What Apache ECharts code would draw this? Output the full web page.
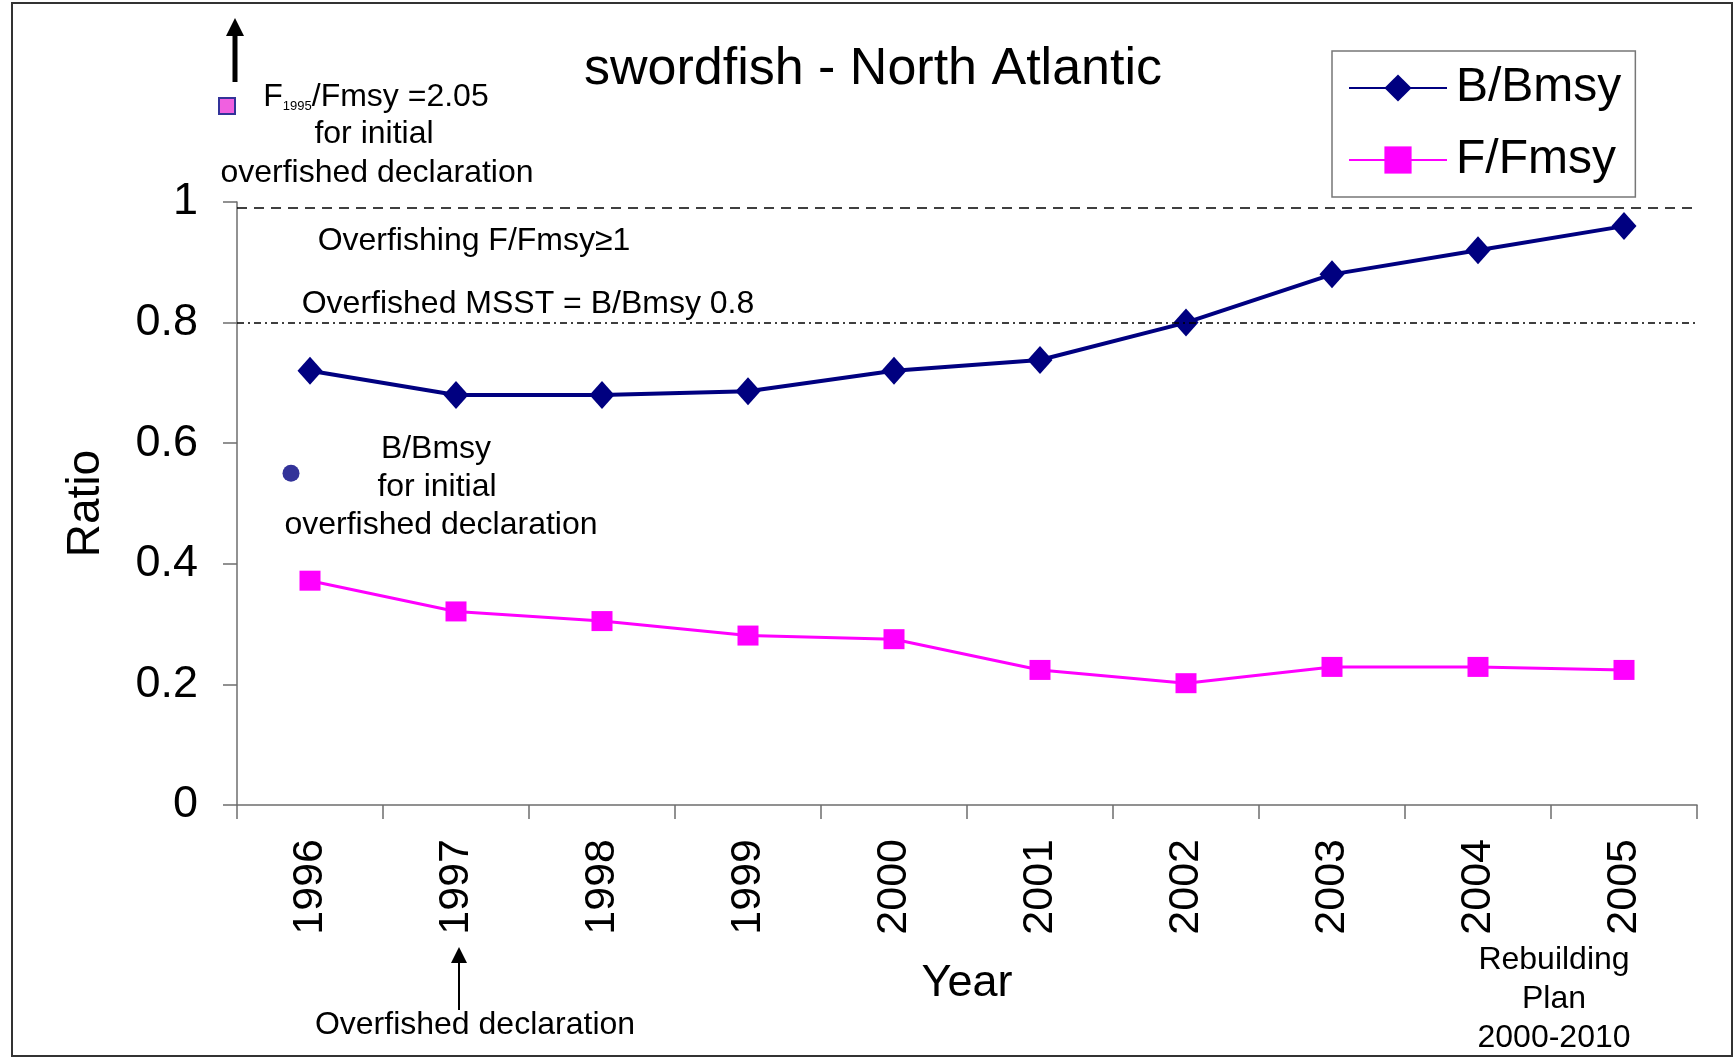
<!DOCTYPE html>
<html>
<head>
<meta charset="utf-8">
<title>swordfish - North Atlantic</title>
<script src="https://cdn.jsdelivr.net/npm/echarts@6/dist/echarts.min.js"></script>
<style>
    html, body { margin: 0; padding: 0; background: #ffffff; }
    #chart { width: 1735px; height: 1058px; }
</style>
</head>
<body>
<div id="chart"></div>
<script>
const years = ['1996', '1997', '1998', '1999', '2000', '2001', '2002', '2003', '2004', '2005'];
const bBmsy = [0.72, 0.68, 0.68, 0.686, 0.72, 0.738, 0.80, 0.88, 0.92, 0.96];
const fFmsy = [0.372, 0.321, 0.305, 0.281, 0.275, 0.224, 0.202, 0.229, 0.229, 0.224];
// reference levels
const overfishingLevel = [0.988];
const msstLevel = [0.8];
// B/Bmsy at the initial overfished declaration
const initialB = [0.55];

const font = 'Liberation Sans, Arial, sans-serif';

const txt = (x, y, text, size) => ({
    type: 'text',
    x: x,
    y: y,
    style: {
        text: text,
        font: size + 'px ' + font,
        fill: '#000',
        align: 'center',
        verticalAlign: 'middle'
    }
});

const initChart = () => {
    const myChart = echarts.init(document.getElementById('chart'));

    const option = {
        animation: false,
        backgroundColor: '#ffffff',
        title: {
            text: 'swordfish - North Atlantic',
            left: 579,
            top: 39,
            textStyle: { fontFamily: font, fontSize: 52, fontWeight: 'normal', color: '#000' }
        },
        legend: {
            orient: 'vertical',
            left: 1332,
            top: 51,
            padding: [13, 14, 13, 16],
            itemGap: 24,
            itemWidth: 98,
            itemHeight: 34,
            borderColor: '#777',
            borderWidth: 1.5,
            textStyle: { fontFamily: font, fontSize: 48, color: '#000', padding: [0, 0, 0, 4] },
            data: ['B/Bmsy', 'F/Fmsy']
        },
        grid: { left: 237, right: 38, top: 202, bottom: 253 },
        xAxis: {
            type: 'category',
            data: years,
            name: 'Year',
            nameLocation: 'middle',
            nameGap: 156,
            nameTextStyle: { fontFamily: font, fontSize: 45, color: '#000' },
            axisLine: { lineStyle: { color: '#6e6e6e', width: 1.5 } },
            axisTick: { show: true, length: 14, lineStyle: { color: '#6e6e6e', width: 1.5 } },
            axisLabel: { rotate: 90, margin: 34, fontFamily: font, fontSize: 43, color: '#000' }
        },
        yAxis: {
            type: 'value',
            min: 0,
            max: 1,
            interval: 0.2,
            name: 'Ratio',
            nameLocation: 'middle',
            nameGap: 128,
            nameTextStyle: { fontFamily: font, fontSize: 46, color: '#000' },
            splitLine: { show: false },
            axisLine: { show: true, lineStyle: { color: '#6e6e6e', width: 1.5 } },
            axisTick: { show: true, length: 14, lineStyle: { color: '#6e6e6e', width: 1.5 } },
            axisLabel: { margin: 39, fontFamily: font, fontSize: 45, color: '#000' }
        },
        series: [
            {
                name: 'B/Bmsy',
                type: 'line',
                data: bBmsy,
                symbol: 'diamond',
                symbolSize: [25, 28],
                itemStyle: { color: '#000080' },
                lineStyle: { color: '#000080', width: 4 },
                markPoint: {
                    silent: true,
                    symbol: 'circle',
                    symbolSize: 17,
                    symbolOffset: [-19, 0],
                    itemStyle: { color: '#333399' },
                    label: { show: false },
                    data: [{ coord: [years[0], initialB[0]] }]
                },
                markLine: {
                    silent: true,
                    symbol: 'none',
                    label: { show: false },
                    lineStyle: { color: '#000', width: 1.5, type: [7, 4, 2, 4] },
                    data: msstLevel.map(v => ({ yAxis: v }))
                }
            },
            {
                name: 'F/Fmsy',
                type: 'line',
                data: fFmsy,
                symbol: 'rect',
                symbolSize: [21, 20],
                itemStyle: { color: '#ff00ff' },
                lineStyle: { color: '#ff00ff', width: 3 },
                markLine: {
                    silent: true,
                    symbol: 'none',
                    label: { show: false },
                    lineStyle: { color: '#000', width: 1.5, type: [10, 7] },
                    data: overfishingLevel.map(v => ({ yAxis: v }))
                }
            }
        ],
        graphic: [
            {
                type: 'rect',
                shape: { x: 12, y: 3, width: 1720, height: 1053 },
                style: { fill: 'none', stroke: '#333', lineWidth: 2 },
                silent: true
            },
            // arrow pointing off-scale for F1995
            { type: 'line', shape: { x1: 235, y1: 34, x2: 235, y2: 82 }, style: { stroke: '#000', lineWidth: 5 } },
            { type: 'polygon', shape: { points: [[226, 36], [244, 36], [235, 18]] }, style: { fill: '#000' } },
            {
                type: 'rect',
                shape: { x: 219, y: 98, width: 16, height: 16 },
                style: { fill: '#f060e0', stroke: '#333399', lineWidth: 2 }
            },
            {
                type: 'text',
                x: 376,
                y: 97,
                style: {
                    text: '{a|F}{s|1995}{a|/Fmsy =2.05}',
                    align: 'center',
                    verticalAlign: 'middle',
                    rich: {
                        a: { font: '32px ' + font, fill: '#000', verticalAlign: 'bottom' },
                        s: { font: '13px ' + font, fill: '#000', verticalAlign: 'bottom' }
                    }
                }
            },
            txt(374, 134, 'for initial', 32),
            txt(377, 173, 'overfished declaration', 32),
            txt(474, 241, 'Overfishing F/Fmsy\u22651', 32),
            txt(528, 304, 'Overfished MSST = B/Bmsy 0.8', 32),
            txt(436, 449, 'B/Bmsy', 32),
            txt(437, 487, 'for initial', 32),
            txt(441, 525, 'overfished declaration', 32),
            // overfished declaration arrow
            { type: 'line', shape: { x1: 459, y1: 960, x2: 459, y2: 1010 }, style: { stroke: '#000', lineWidth: 2 } },
            { type: 'polygon', shape: { points: [[451, 963], [467, 963], [459, 947]] }, style: { fill: '#000' } },
            txt(475, 1025, 'Overfished declaration', 32),
            txt(1554, 960, 'Rebuilding', 32),
            txt(1554, 999, 'Plan', 32),
            txt(1554, 1038, '2000-2010', 32)
        ]
    };

    myChart.setOption(option);
};

window.addEventListener('load', () => {
    initChart();
});
</script>
</body>
</html>
